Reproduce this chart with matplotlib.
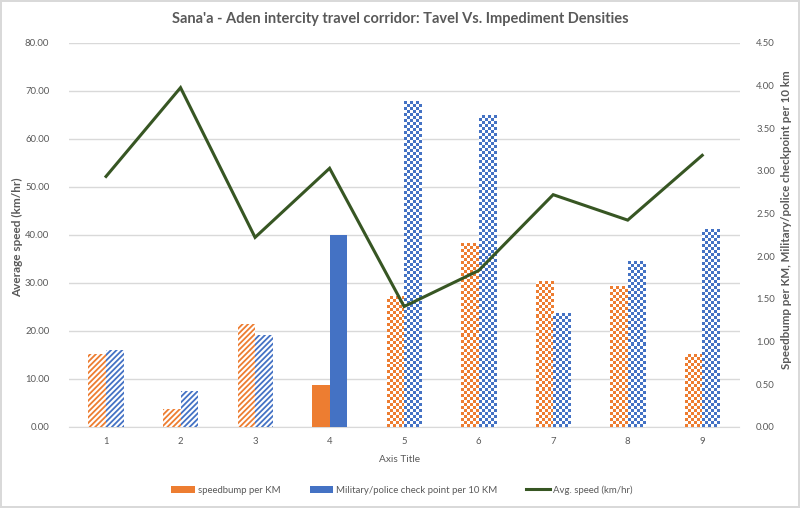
import matplotlib.pyplot as plt
import numpy as np
from matplotlib.patches import Patch
from matplotlib.lines import Line2D
from matplotlib.colors import to_rgba

plt.rcParams['font.family'] = ['Lato', 'DejaVu Sans']
plt.rcParams['hatch.linewidth'] = 1.3

categories = [1, 2, 3, 4, 5, 6, 7, 8, 9]
speed = [52.2, 70.7, 39.5, 53.9, 25.1, 32.6, 48.4, 43.1, 56.6]
speedbumps = [0.86, 0.21, 1.21, 0.49, 1.53, 2.15, 1.70, 1.65, 0.85]
checkpoints = [0.90, 0.42, 1.08, 2.25, 3.82, 3.65, 1.33, 1.94, 2.31]
# fill style per category: stripes, solid or checkerboard
styles = ['stripe', 'stripe', 'stripe', 'solid', 'check', 'check', 'check', 'check', 'check']

orange = '#ED7D31'
blue = '#4472C4'
green = '#375623'
grey = '#595959'
grid_c = '#D9D9D9'

fig = plt.figure(figsize=(8, 5.08), dpi=100)
fig.patch.set_edgecolor(grid_c)
fig.patch.set_linewidth(1.5)

rect = [68.75 / 800, 1 - 427 / 508, (739.5 - 68.75) / 800, (427 - 43) / 508]
ax = fig.add_axes(rect)
ax2 = ax.twinx()
ax3 = ax.twinx()

x = np.array(categories, dtype=float)
w = 0.235
ax.set_xlim(0.5, 9.5)
ax.set_ylim(0, 80)
ax.set_yticks(np.arange(0, 81, 10))
ax.set_yticklabels([f'{v:.2f}' for v in np.arange(0, 81, 10)])
ax.grid(axis='y', color=grid_c, linewidth=1)
ax.set_axisbelow(True)

ax2.set_ylim(0, 4.5)
ax2.set_yticks(np.arange(0, 4.51, 0.5))
ax2.set_yticklabels([f'{v:.2f}' for v in np.arange(0, 4.51, 0.5)])

sq = 3 * 4.5 / 384  # checker square height in right-axis units


def checker(bar, color):
    x0, bw, h = bar.get_x(), bar.get_width(), bar.get_height()
    nr = max(1, int(round(h / sq)))
    nc = 6
    ii, jj = np.meshgrid(np.arange(nr), np.arange(nc), indexing='ij')
    mask = (ii + jj) % 2 == 0
    img = np.ones((nr, nc, 4))
    img[mask] = to_rgba(color)
    ax2.imshow(img, extent=[x0, x0 + bw, 0, h], aspect='auto',
               interpolation='nearest', origin='lower', zorder=2)


for i, st in enumerate(styles):
    for vals, off, col in [(speedbumps, -w / 2, orange), (checkpoints, w / 2, blue)]:
        if st == 'solid':
            ax2.bar(x[i] + off, vals[i], w, color=col, zorder=2)
        elif st == 'stripe':
            ax2.bar(x[i] + off, vals[i], w, facecolor='white', edgecolor=col,
                    hatch='//////', linewidth=0, zorder=2)
        else:
            b = ax2.bar(x[i] + off, vals[i], w, facecolor='white', linewidth=0, zorder=2)
            checker(b[0], col)

ax2.set_xlim(0.5, 9.5)
ax2.set_ylim(0, 4.5)

ax3.plot(x, speed, color=green, linewidth=2.2, solid_joinstyle='miter')
ax3.set_ylim(0, 80)
ax3.set_xlim(0.5, 9.5)
ax3.axis('off')

ax.set_xticks(categories)
for a in (ax, ax2):
    for s in a.spines.values():
        s.set_visible(False)
    a.tick_params(axis='both', length=0, labelsize=6.8, colors=grey)
ax.spines['bottom'].set_visible(True)
ax.spines['bottom'].set_color(grid_c)
ax.tick_params(axis='y', pad=14)
ax2.tick_params(axis='y', pad=12)
ax.tick_params(axis='x', pad=7)

fig.text(0.5, 1 - 19 / 508, "Sana'a - Aden intercity travel corridor: Tavel Vs. Impediment Densities",
         ha='center', va='center', fontsize=10.5, fontweight='bold', color=grey)
fig.text(18 / 800, 1 - 237 / 508, 'Average speed (km/hr)', rotation=90, ha='center', va='center',
         fontsize=8.5, fontweight='bold', color=grey)
fig.text(786 / 800, 1 - 220 / 508, 'Speedbump per KM, Military/police checkpoint per 10 km',
         rotation=90, ha='center', va='center', fontsize=8.3, fontweight='bold', color=grey)
fig.text(0.5, 1 - 459 / 508, 'Axis Title', ha='center', va='center', fontsize=7.3, color=grey)

handles = [Patch(facecolor=orange), Patch(facecolor=blue), Line2D([], [], color=green, linewidth=2.2)]
labels = ['speedbump per KM', 'Military/police check point per 10 KM', 'Avg. speed (km/hr)']
leg = fig.legend(handles, labels, loc='center', bbox_to_anchor=(402 / 800, 1 - 490 / 508), ncol=3,
                 frameon=False, fontsize=6.9, handlelength=2.5, handleheight=0.7,
                 handletextpad=0.3, columnspacing=3.0)
for t in leg.get_texts():
    t.set_color(grey)

fig.savefig('out.png', dpi=100)
